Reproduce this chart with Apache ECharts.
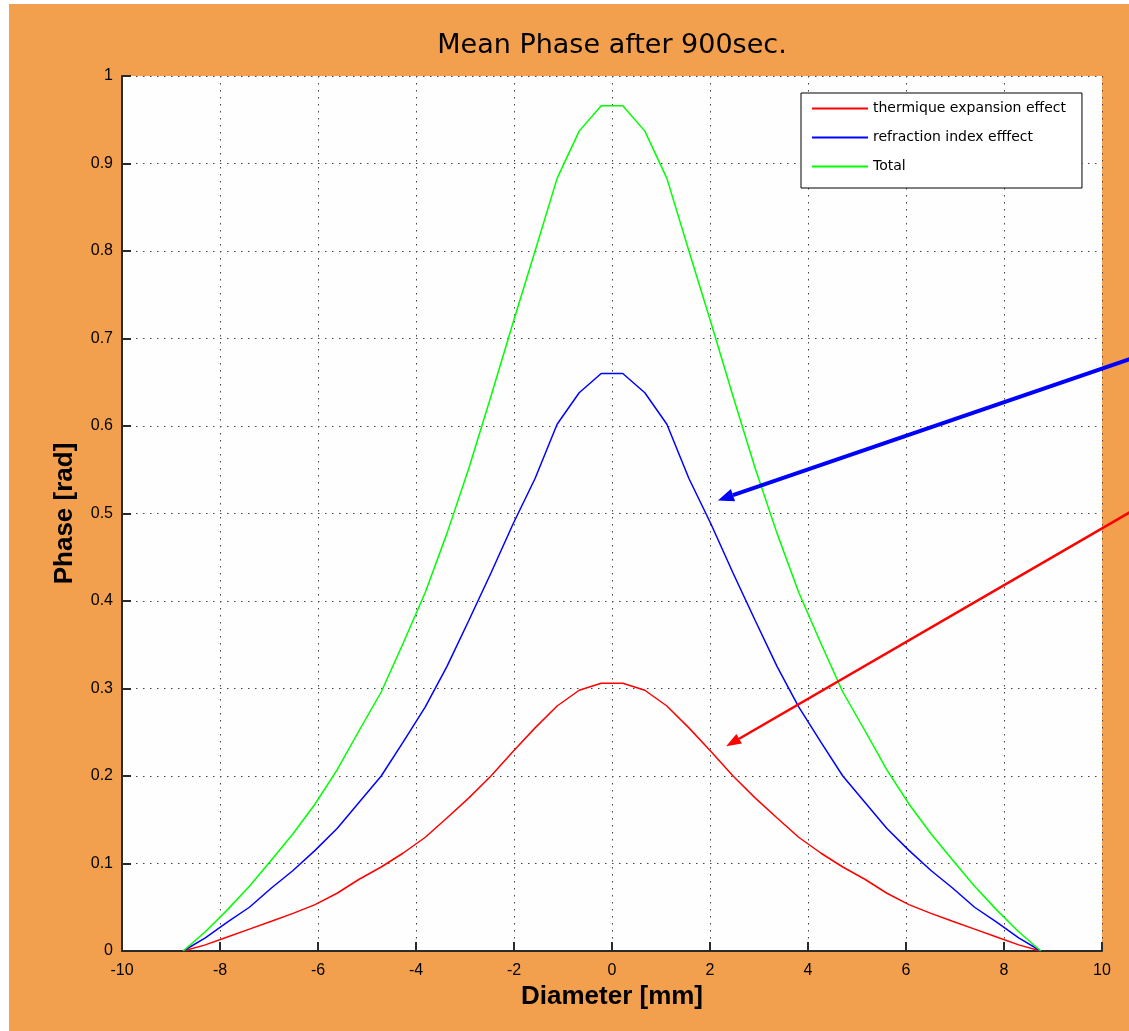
<!DOCTYPE html>
<html>
<head>
<meta charset="utf-8">
<title>Mean Phase after 900sec.</title>
<script src="https://cdn.jsdelivr.net/npm/echarts@6/dist/echarts.min.js"></script>
<style>
  html, body { margin: 0; padding: 0; background: #fff; }
  #chart { position: absolute; left: 9px; top: 4px; width: 1120px; height: 1027px; background: #F3A04E; }
</style>
</head>
<body>
<div id="chart"></div>
<script>
// diameter positions [mm]
var diameter = [-8.75, -8.30, -7.85, -7.40, -6.95, -6.51, -6.06, -5.61, -5.16, -4.71,
  -4.26, -3.81, -3.37, -2.92, -2.47, -2.02, -1.57, -1.12, -0.67, -0.22,
  0.22, 0.67, 1.12, 1.57, 2.02, 2.47, 2.92, 3.37, 3.81, 4.26,
  4.71, 5.16, 5.61, 6.06, 6.51, 6.95, 7.40, 7.85, 8.30, 8.75]

// phase [rad]
var thermique = [0, 0.007, 0.016, 0.025, 0.034, 0.043, 0.053, 0.066, 0.082, 0.096,
  0.112, 0.130, 0.152, 0.175, 0.200, 0.228, 0.255, 0.280, 0.298, 0.306,
  0.306, 0.298, 0.280, 0.255, 0.228, 0.200, 0.175, 0.152, 0.130, 0.112,
  0.096, 0.082, 0.066, 0.053, 0.043, 0.034, 0.025, 0.016, 0.007, 0]
var refraction = [0, 0.015, 0.033, 0.050, 0.072, 0.092, 0.115, 0.140, 0.170, 0.200,
  0.239, 0.279, 0.325, 0.378, 0.432, 0.488, 0.540, 0.602, 0.638, 0.660,
  0.660, 0.638, 0.602, 0.540, 0.488, 0.432, 0.378, 0.325, 0.279, 0.239,
  0.200, 0.170, 0.140, 0.115, 0.092, 0.072, 0.050, 0.033, 0.015, 0]
var total = [0, 0.022, 0.047, 0.074, 0.104, 0.134, 0.168, 0.207, 0.252, 0.296,
  0.352, 0.410, 0.477, 0.552, 0.634, 0.718, 0.800, 0.883, 0.937, 0.966,
  0.966, 0.937, 0.883, 0.800, 0.718, 0.634, 0.552, 0.477, 0.410, 0.352,
  0.296, 0.252, 0.207, 0.168, 0.134, 0.104, 0.074, 0.047, 0.022, 0]

var names = ['thermique expansion effect', 'refraction index efffect', 'Total']

// annotation arrows, [from, to] in data units
var blueArrow = [[10.65, 0.678], [2.16, 0.515]]
var redArrow = [[10.65, 0.504], [2.33, 0.234]]

function pairs(ys) {
  return diameter.map(function (x, i) { return [x, ys[i]] })
}

var font = '"Liberation Sans", Arial, sans-serif'
var wideFont = '"DejaVu Sans", sans-serif'
var gridLine = { show: true, lineStyle: { color: '#444', width: 1, type: [1.5, 5.5] } }

var chart = echarts.init(document.getElementById('chart'))
chart.setOption({
  animation: false,
  textStyle: { fontFamily: font },
  graphic: [{
    type: 'text',
    x: 603,
    y: 42,
    style: {
      text: 'Mean Phase after 900sec.',
      font: '27px ' + wideFont,
      fill: '#000',
      align: 'center',
      verticalAlign: 'middle'
    }
  }],
  grid: {
    left: 113,
    top: 72,
    right: 27,
    bottom: 80,
    show: true,
    backgroundColor: '#FDFEFD',
    borderWidth: 0
  },
  legend: {
    orient: 'vertical',
    left: 792,
    top: 89,
    padding: [7, 16, 13, 10],
    itemGap: 12,
    itemWidth: 56,
    itemHeight: 2,
    itemStyle: { opacity: 0 },
    backgroundColor: '#fff',
    borderColor: '#000',
    borderWidth: 1,
    borderRadius: 0,
    textStyle: { fontSize: 14, color: '#000', fontFamily: wideFont, lineHeight: 17 },
    data: names
  },
  xAxis: {
    type: 'value',
    min: -10,
    max: 10,
    interval: 2,
    name: 'Diameter [mm]',
    nameLocation: 'middle',
    nameGap: 31,
    nameTextStyle: { fontSize: 26, fontWeight: 'bold', color: '#000' },
    axisLine: { onZero: false, lineStyle: { color: '#2a2a2a', width: 2 } },
    axisTick: { inside: true, length: 9, lineStyle: { color: '#2a2a2a', width: 2 } },
    axisLabel: { fontSize: 16, color: '#000', margin: 12 },
    splitLine: gridLine
  },
  yAxis: {
    type: 'value',
    min: 0,
    max: 1,
    interval: 0.1,
    name: 'Phase [rad]',
    nameLocation: 'middle',
    nameGap: 44,
    nameTextStyle: { fontSize: 26, fontWeight: 'bold', color: '#000' },
    axisLine: { show: true, onZero: false, lineStyle: { color: '#2a2a2a', width: 2 } },
    axisTick: { show: true, inside: true, length: 9, lineStyle: { color: '#2a2a2a', width: 2 } },
    axisLabel: { fontSize: 16, color: '#000', margin: 9 },
    splitLine: gridLine
  },
  series: [
    {
      name: names[0],
      type: 'line',
      symbol: 'none',
      color: '#FF0000',
      lineStyle: { width: 1.5 },
      data: pairs(thermique)
    },
    {
      name: names[1],
      type: 'line',
      symbol: 'none',
      color: '#0000FF',
      lineStyle: { width: 1.5 },
      data: pairs(refraction)
    },
    {
      name: names[2],
      type: 'line',
      symbol: 'none',
      color: '#00FF00',
      lineStyle: { width: 1.5 },
      data: pairs(total)
    }
  ]
})

// arrows drawn on top, placed through the axes
function arrow(pts, color, width, headLen, headHalf) {
  var a = chart.convertToPixel({ gridIndex: 0 }, pts[0])
  var b = chart.convertToPixel({ gridIndex: 0 }, pts[1])
  var dx = b[0] - a[0], dy = b[1] - a[1]
  var len = Math.sqrt(dx * dx + dy * dy)
  var ux = dx / len, uy = dy / len
  var bx = b[0] - ux * headLen, by = b[1] - uy * headLen
  return [{
    type: 'line',
    silent: true,
    z: 100,
    shape: { x1: a[0], y1: a[1], x2: bx, y2: by },
    style: { stroke: color, lineWidth: width }
  }, {
    type: 'polygon',
    silent: true,
    z: 100,
    shape: { points: [[b[0], b[1]], [bx - uy * headHalf, by + ux * headHalf], [bx + uy * headHalf, by - ux * headHalf]] },
    style: { fill: color }
  }]
}

var g = chart.getOption().graphic[0].elements.slice()
chart.setOption({
  graphic: g.concat(arrow(blueArrow, '#0000FF', 4, 16, 6.5), arrow(redArrow, '#FF0000', 2.5, 15, 5.5))
})
</script>
</body>
</html>
